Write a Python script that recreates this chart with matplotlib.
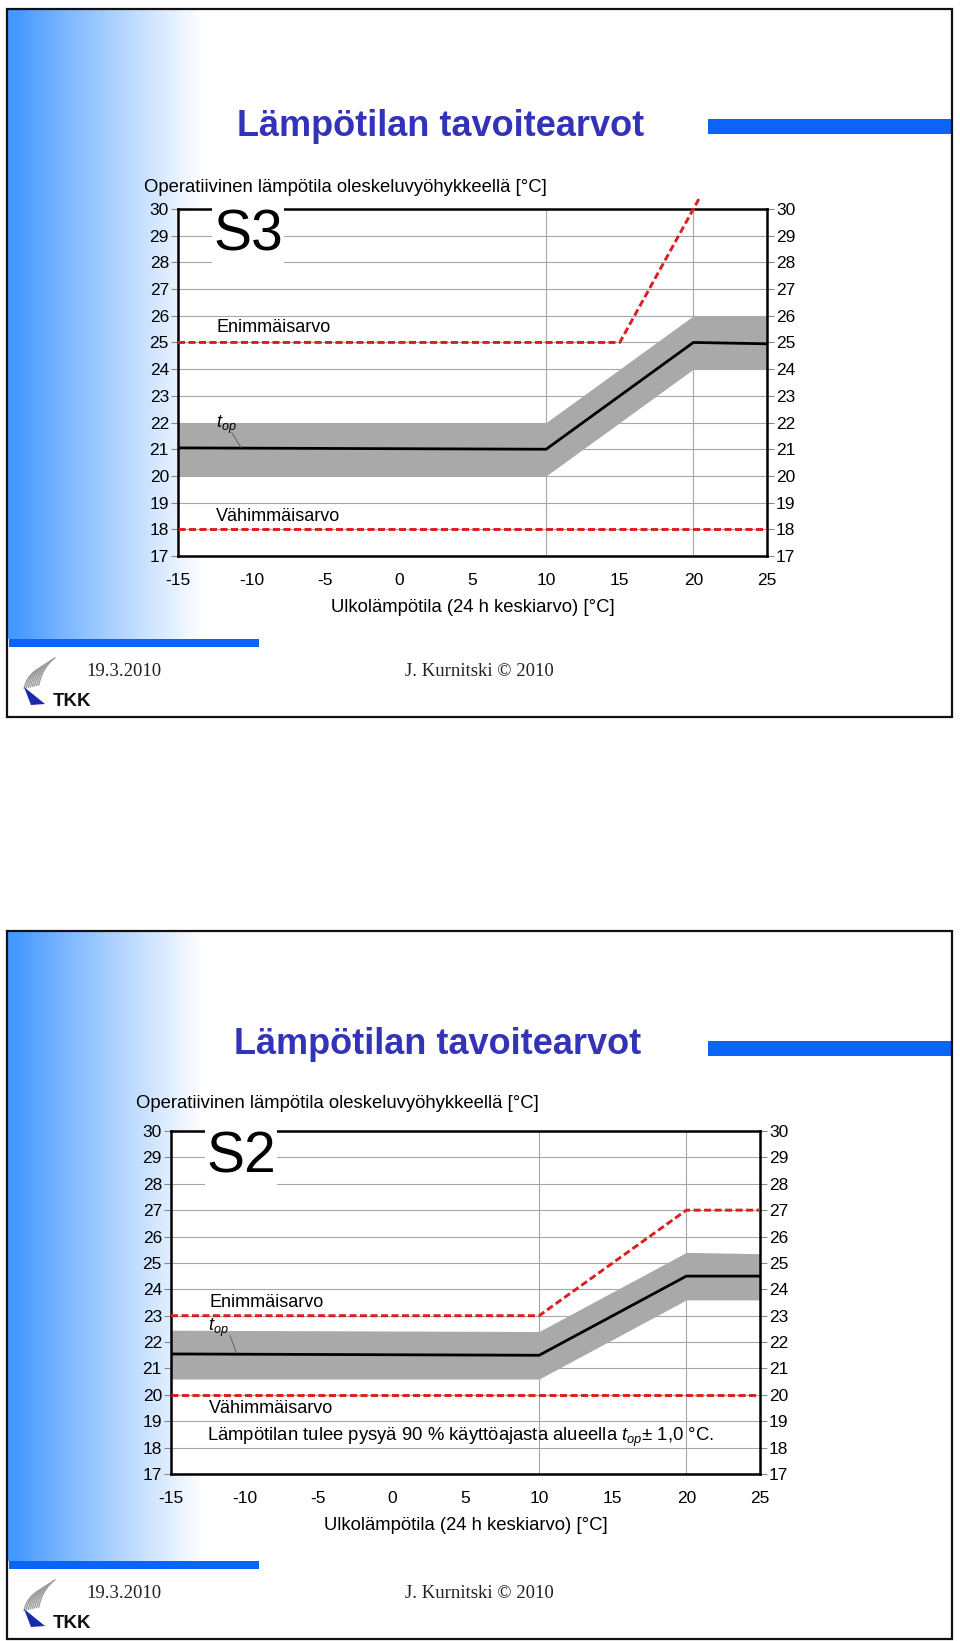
import numpy as np
import matplotlib
matplotlib.use('Agg')
import matplotlib.pyplot as plt
from matplotlib.patches import Rectangle, Polygon

plt.rcParams['font.family'] = ['Liberation Sans', 'DejaVu Sans']
plt.rcParams['mathtext.fontset'] = 'custom'
plt.rcParams['mathtext.it'] = 'Liberation Sans:italic'
plt.rcParams['mathtext.rm'] = 'Liberation Sans'

# ---------------- data ----------------
title = "Lämpötilan tavoitearvot"
ylabel_top = "Operatiivinen lämpötila oleskeluvyöhykkeellä [°C]"
xlabel = "Ulkolämpötila (24 h keskiarvo) [°C]"
footer_date = "19.3.2010"
footer_author = "J. Kurnitski © 2010"
x_ticks = [-15, -10, -5, 0, 5, 10, 15, 20, 25]
y_ticks = list(range(17, 31))
vgrid_x = [10, 20]

s3_top_x = [-15, 10, 20, 25]
s3_top_y = [21.05, 21.0, 25.0, 24.95]
s3_band_lo = [20.0, 20.0, 24.0, 24.0]
s3_band_hi = [22.0, 22.0, 26.0, 26.0]
s3_max_x = [-15, 15, 20.4]
s3_max_y = [25, 25, 30.4]
s3_min_x = [-15, 25]
s3_min_y = [18, 18]

s2_top_x = [-15, 10, 20, 25]
s2_top_y = [21.55, 21.5, 24.5, 24.5]
s2_band_lo = [20.6, 20.6, 23.6, 23.6]
s2_band_hi = [22.45, 22.4, 25.4, 25.35]
s2_max_x = [-15, 10, 20, 25]
s2_max_y = [23, 23, 27, 27]
s2_min_x = [-15, 25]
s2_min_y = [20, 20]

# ---------------- figure ----------------
W, H = 960, 1641
fig = plt.figure(figsize=(W / 100, H / 100), dpi=100)
fig.patch.set_facecolor('white')

bg = fig.add_axes([0, 0, 1, 1])
bg.axis('off')

BLUE_BAR = '#0A64F5'
TITLE_C = '#3333B8'

# horizontal gradient
gx = np.linspace(8, 212, 300)
mix = np.clip((gx - 18) / 185.0, 0, 1) ** 0.9
c0 = np.array([0.27, 0.60, 1.0])
grad = (1 - mix)[:, None] * c0[None, :] + mix[:, None] * np.ones(3)[None, :]
grad = grad[None, :, :]


def slide(oy):
    bg.imshow(grad, extent=(8, 212, 639 + oy, 10 + oy), aspect='auto',
              interpolation='bilinear', zorder=0)
    bg.add_patch(Rectangle((7, 9 + oy), 945, 708, fill=False,
                           edgecolor='#111111', lw=1.6, zorder=5))
    bg.add_patch(Rectangle((708, 119 + oy), 243, 15, color=BLUE_BAR, lw=0, zorder=2))
    bg.add_patch(Rectangle((9, 639 + oy), 250, 8, color=BLUE_BAR, lw=0, zorder=2))
    bg.text(86, 672 + oy, footer_date, family=['Liberation Serif'], fontsize=13.5,
            va='center', ha='left', color='#222222')
    bg.text(405, 672 + oy, footer_author, family=['Liberation Serif'], fontsize=13.5,
            va='center', ha='left', color='#222222')
    bg.text(53, 702 + oy, "TKK", fontsize=13.5, fontweight='bold', va='center',
            ha='left', color='#111111')
    # logo: grey fan of stripes and blue wedge
    t = np.linspace(0, 1, 40)
    for i in range(8):
        sx, sy = 24 + i * 2.1, 689 - i * 0.5 + oy
        ex, ey = 40 + i * 2.2, 668 - i * 1.5 + oy
        cx, cy = (sx + ex) / 2 - 5, (sy + ey) / 2 - 4
        xs = (1 - t) ** 2 * sx + 2 * (1 - t) * t * cx + t ** 2 * ex
        ys = (1 - t) ** 2 * sy + 2 * (1 - t) * t * cy + t ** 2 * ey
        bg.plot(xs, ys, color='#9c9c9c', lw=1.0, zorder=3,
                solid_capstyle='butt')
    bg.add_patch(Polygon([(24, 687 + oy), (45, 704 + oy), (31, 705 + oy)],
                         closed=True, color='#1a2aa8', lw=0, zorder=4))


slide(0)
slide(922)
bg.set_xlim(0, W)
bg.set_ylim(H, 0)


def chart(box, tx, ty, lo, hi, mx, my, nx, ny, tag, extra, ann):
    l, t, r, b = box
    ax = fig.add_axes([l / W, 1 - b / H, (r - l) / W, (b - t) / H])
    ax.set_facecolor('white')
    ax.set_xlim(-15, 25)
    ax.set_ylim(17, 30)
    ax.set_axisbelow(True)
    for yv in y_ticks:
        ax.axhline(yv, color='#a6a6a6', lw=0.8, zorder=0)
    for xv in vgrid_x:
        ax.axvline(xv, color='#a6a6a6', lw=0.8, zorder=0)
    ax.fill_between(tx, lo, hi, color='#a9a9a9', lw=0, zorder=1)
    ax.plot(tx, ty, color='black', lw=2.0, zorder=3, solid_joinstyle='miter')
    ax.plot(mx, my, color='#dc1e1e', lw=2.1, ls=(0, (2.4, 1.2)), zorder=4,
            clip_on=False)
    ax.plot(nx, ny, color='#dc1e1e', lw=2.1, ls=(0, (2.4, 1.2)), zorder=4)
    ax.set_xticks(x_ticks)
    ax.set_xticklabels([str(v) for v in x_ticks])
    ax.set_yticks(y_ticks)
    ax.set_yticklabels([str(v) for v in y_ticks])
    ax.tick_params(axis='x', length=0, pad=12, labelsize=12.5)
    ax.tick_params(axis='y', which='both', left=True, right=True, labelleft=True,
                   labelright=True, length=5, width=0.8, color='#888888',
                   direction='out', pad=1.5, labelsize=12.5)
    for s in ax.spines.values():
        s.set_linewidth(1.8)
        s.set_color('black')
    ax.set_xlabel(xlabel, fontsize=13.3, labelpad=8)
    ax.text(-12.6, 29.0, tag, fontsize=41, va='center', ha='left', zorder=6,
            bbox=dict(facecolor='white', edgecolor='none', pad=1))
    (ex, ey), (tpx, tpy), (lx0, ly0, lx1, ly1), (vx, vy) = ann
    ax.text(ex, ey, "Enimmäisarvo", fontsize=13, va='center', ha='left', zorder=6)
    ax.text(tpx, tpy, "$t_{op}$", fontsize=13, va='center', ha='left', zorder=6)
    ax.plot([lx0, lx1], [ly0, ly1], color='#555555', lw=0.6, zorder=6)
    ax.text(vx, vy, "Vähimmäisarvo", fontsize=13, va='center', ha='left', zorder=6)
    if extra:
        ax.text(-12.55, 18.4, extra, fontsize=13.3, va='center', ha='left', zorder=6)
    return ax


# slide 1 (S3)
bg.text(441, 126, title, fontsize=26, fontweight='bold', color=TITLE_C,
        ha='center', va='center')
bg.text(144, 187, ylabel_top, fontsize=13.3, ha='left', va='center')
chart((178, 209, 767, 556), s3_top_x, s3_top_y, s3_band_lo, s3_band_hi,
      s3_max_x, s3_max_y, s3_min_x, s3_min_y, "S3", None,
      ((-12.4, 25.55), (-12.4, 21.9), (-11.35, 21.62, -10.7, 21.05), (-12.4, 18.48)))

# slide 2 (S2)
bg.text(438, 1044, title, fontsize=26, fontweight='bold', color=TITLE_C,
        ha='center', va='center')
bg.text(136, 1104, ylabel_top, fontsize=13.3, ha='left', va='center')
chart((171, 1131, 760, 1474), s2_top_x, s2_top_y, s2_band_lo, s2_band_hi,
      s2_max_x, s2_max_y, s2_min_x, s2_min_y, "S2",
      "Lämpötilan tulee pysyä 90 % käyttöajasta alueella $t_{op}$± 1,0 °C.",
      ((-12.4, 23.5), (-12.5, 22.55), (-11.0, 22.25, -10.55, 21.58), (-12.4, 19.5)))

fig.savefig('out.png', dpi=100, facecolor='white')
